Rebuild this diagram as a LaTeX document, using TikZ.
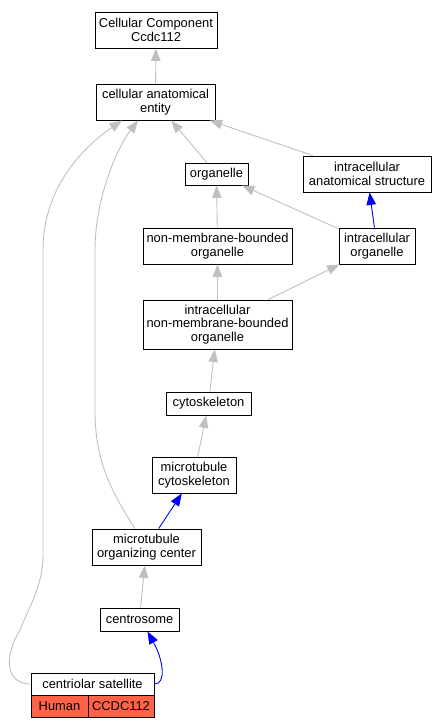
\documentclass[tikz,border=0pt]{standalone}
\usepackage{fontspec}
\setmainfont{Liberation Sans}
\usetikzlibrary{arrows.meta}
\definecolor{edgegray}{HTML}{C0C0C0}
\definecolor{tomatored}{HTML}{FF6347}

\begin{document}
\begin{tikzpicture}[
      x=1pt, y=-1pt,
      >={Triangle[length=12.5pt,width=9.5pt]},
      term/.style={draw, line width=0.9pt, inner sep=0pt, align=center, font=\fontsize{12.9}{13.5}\selectfont},
      isa/.style={->, draw=edgegray, line width=0.9pt},
      partof/.style={->, draw=blue, line width=0.9pt}
    ]
    \useasboundingbox (0,0) rectangle (447,728);
    \node[term, minimum width=122pt, minimum height=36pt] (cc) at (156,30) {Cellular Component\\Ccdc112};
    \node[term, minimum width=119pt, minimum height=36pt] (entity) at (155.5,102) {cellular anatomical\\entity};
    \node[term, minimum width=63pt, minimum height=22pt] (organelle) at (216.5,174) {organelle};
    \node[term, minimum width=128pt, minimum height=36pt] (ias) at (367,174) {intracellular\\anatomical structure};
    \node[term, minimum width=149pt, minimum height=36pt] (nmb) at (217.5,246) {non-membrane-bounded\\organelle};
    \node[term, minimum width=76pt, minimum height=36pt] (io) at (377,246) {intracellular\\organelle};
    \node[term, minimum width=149pt, minimum height=49pt] (inmb) at (217.5,324.5) {intracellular\\non-membrane-bounded\\organelle};
    \node[term, minimum width=85pt, minimum height=23pt] (cyto) at (208.5,403.5) {cytoskeleton};
    \node[term, minimum width=84pt, minimum height=36pt] (mtcyto) at (194,475) {microtubule\\cytoskeleton};
    \node[term, minimum width=109pt, minimum height=36pt] (mtoc) at (146.5,547) {microtubule\\organizing center};
    \node[term, minimum width=79pt, minimum height=23pt] (centrosome) at (139.5,619.5) {centrosome};
    \node[term, minimum width=123pt, minimum height=22pt] (sat) at (92.5,684) {centriolar satellite};
    \node[term, fill=tomatored, minimum width=57pt, minimum height=22pt] (human) at (59.5,706) {Human};
    \node[term, fill=tomatored, minimum width=66pt, minimum height=22pt] (gene) at (121,706) {CCDC112};

    \draw[isa] (entity) -- (cc);
    \draw[isa] (organelle) -- (entity);
    \draw[isa] (ias) -- (entity);
    \draw[isa] (io) -- (organelle);
    \draw[partof] (io) -- (ias);
    \draw[isa] (nmb) -- (organelle);
    \draw[isa] (inmb) -- (nmb);
    \draw[isa] (inmb) -- (io);
    \draw[isa] (cyto) -- (inmb);
    \draw[isa] (mtcyto) -- (cyto);
    \draw[partof] (mtoc) -- (mtcyto);
    \draw[isa] (centrosome) -- (mtoc);
    \draw[partof] (sat.east) .. controls +(12,0) and +(16,29) .. ([xshift=8pt]centrosome.south);
    \draw[isa] ([xshift=-11.5pt]mtoc.north) .. controls +(-25,-39) and +(0,50) .. (95,410) -- (95,250) .. controls +(0,-50) and +(-22,29) .. ([xshift=-17.5pt]entity.south);
    \draw[isa] (sat.west) .. controls +(-23,0) and +(-18,30) .. (20,630) .. controls +(10,-25) and +(0,30) .. (43,555) -- (43,250) .. controls +(0,-60) and +(-42,29) .. ([xshift=-33.5pt]entity.south);
  \end{tikzpicture}
\end{document}
